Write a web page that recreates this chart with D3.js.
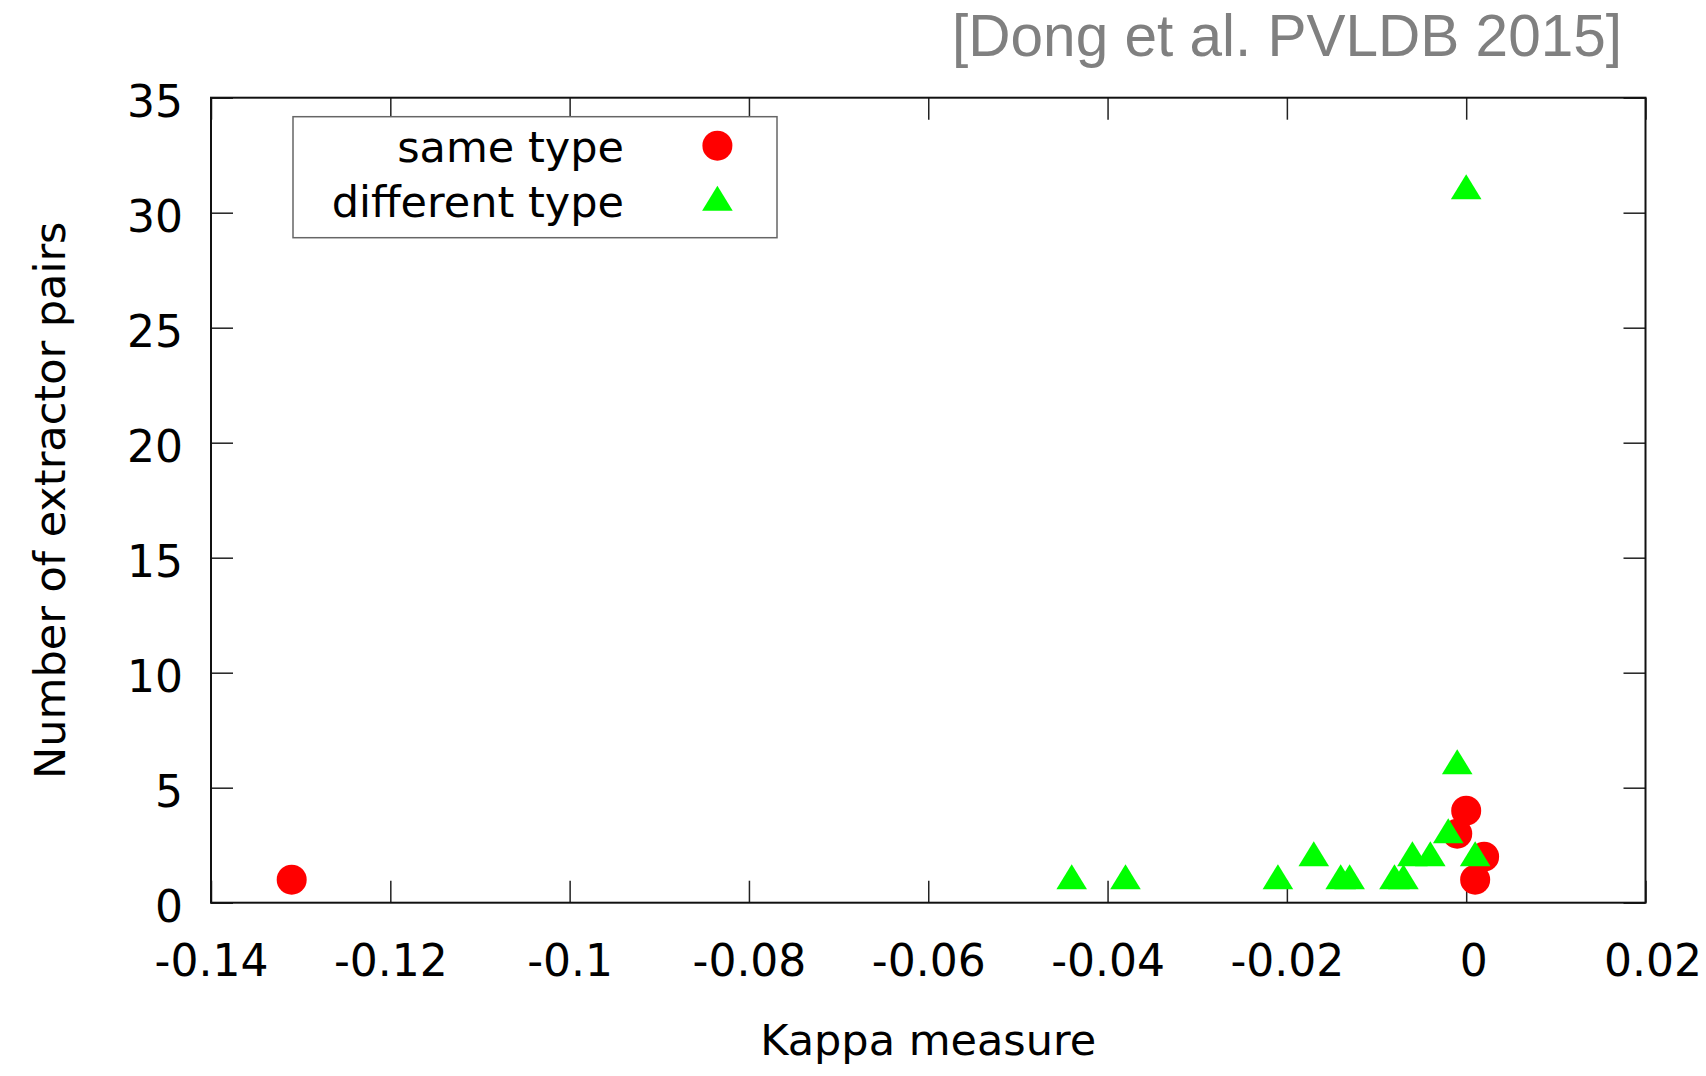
<!DOCTYPE html>
<html>
<head>
<meta charset="utf-8">
<script src="https://cdn.jsdelivr.net/npm/d3@7"></script>
<style>
  body { margin: 0; background: #fff; }
  svg { display: block; }
</style>
</head>
<body>
<svg id="chart" width="1706" height="1076"></svg>
<script>
// Extractor pairs of the same type: Kappa measure and number of pairs
const sameTypeKappa = [-0.131, -0.001, 0.000, 0.001, 0.002];
const sameTypePairs = [1, 3, 4, 1, 2];

// Extractor pairs of different types
const diffTypeKappa = [-0.044, -0.038, -0.021, -0.017, -0.014, -0.013, -0.008, -0.007, -0.006, -0.004, -0.002, -0.001, 0.001, 0.000];
const diffTypePairs = [1, 1, 1, 2, 1, 1, 1, 1, 2, 2, 3, 6, 2, 31];

const seriesNames = ["same type", "different type"];
const seriesColors = ["#ff0000", "#00ff00"];

const xTickValues = [-0.14, -0.12, -0.10, -0.08, -0.06, -0.04, -0.02, 0, 0.02];
const xTickLabels = ["-0.14", "-0.12", "-0.1", "-0.08", "-0.06", "-0.04", "-0.02", "0", "0.02"];
const yTickValues = [0, 5, 10, 15, 20, 25, 30, 35];
const yTickLabels = ["0", "5", "10", "15", "20", "25", "30", "35"];

const svg = d3.select("#chart");
const plot = { left: 211, right: 1645.5, top: 97.7, bottom: 902.7 };
const FONT = "'DejaVu Sans', Verdana, sans-serif";
const TICK = 22;

const x = d3.scaleLinear().domain([-0.14, 0.02]).range([plot.left, plot.right]);
const y = d3.scaleLinear().domain([0, 35]).range([plot.bottom, plot.top]);

// Axes with inward ticks on all four sides
function styleAxis(g) {
  g.select(".domain").remove();
  g.selectAll(".tick line").attr("stroke", "#222").attr("stroke-width", 1.5);
}

const xBottom = svg.append("g")
  .attr("transform", `translate(0,${plot.bottom})`)
  .call(d3.axisBottom(x).tickValues(xTickValues).tickSize(-TICK)
    .tickFormat((d, i) => xTickLabels[i]))
  .call(styleAxis);
// non-negative labels leave room for a sign, so they sit half a space to the right
xBottom.selectAll(".tick text")
  .attr("y", 73).attr("dy", null)
  .attr("dx", (d, i) => xTickLabels[i].startsWith("-") ? 0 : 7)
  .attr("font-family", FONT).attr("font-size", 44).attr("fill", "#000");

svg.append("g")
  .attr("transform", `translate(0,${plot.top})`)
  .call(d3.axisTop(x).tickValues(xTickValues).tickSize(-TICK).tickFormat(""))
  .call(styleAxis);

const yLeft = svg.append("g")
  .attr("transform", `translate(${plot.left},0)`)
  .call(d3.axisLeft(y).tickValues(yTickValues).tickSize(-TICK)
    .tickFormat((d, i) => yTickLabels[i]))
  .call(styleAxis);
yLeft.selectAll(".tick text")
  .attr("x", -28).attr("dy", null).attr("y", 19)
  .attr("font-family", FONT).attr("font-size", 44).attr("fill", "#000");

svg.append("g")
  .attr("transform", `translate(${plot.right},0)`)
  .call(d3.axisRight(y).tickValues(yTickValues).tickSize(-TICK).tickFormat(""))
  .call(styleAxis);

// Plot border
svg.append("rect")
  .attr("x", plot.left).attr("y", plot.top)
  .attr("width", plot.right - plot.left).attr("height", plot.bottom - plot.top)
  .attr("fill", "none").attr("stroke", "#111").attr("stroke-width", 2);

// Axis titles
svg.append("text")
  .attr("x", (plot.left + plot.right) / 2).attr("y", 1055)
  .attr("text-anchor", "middle")
  .attr("font-family", FONT).attr("font-size", 43)
  .text("Kappa measure");

svg.append("text")
  .attr("transform", `translate(65,${(plot.top + plot.bottom) / 2}) rotate(-90)`)
  .attr("text-anchor", "middle")
  .attr("font-family", FONT).attr("font-size", 43)
  .text("Number of extractor pairs");

// Citation
svg.append("text")
  .attr("x", 1622).attr("y", 56)
  .attr("text-anchor", "end")
  .attr("font-family", "'Liberation Sans', Arial, sans-serif").attr("font-size", 58.5)
  .attr("fill", "#808080")
  .text("[Dong et al. PVLDB 2015]");

// Marker shapes
const circleR = 15;
const trianglePath = "M0,-15.5L15.3,9.5L-15.3,9.5Z";

const sameData = sameTypeKappa.map((k, i) => ({ k, n: sameTypePairs[i] }));
const diffData = diffTypeKappa.map((k, i) => ({ k, n: diffTypePairs[i] }));

svg.append("g").selectAll("circle")
  .data(sameData).join("circle")
  .attr("cx", d => x(d.k)).attr("cy", d => y(d.n))
  .attr("r", circleR).attr("fill", seriesColors[0]);

svg.append("g").selectAll("path")
  .data(diffData).join("path")
  .attr("transform", d => `translate(${x(d.k)},${y(d.n)})`)
  .attr("d", trianglePath).attr("fill", seriesColors[1]);

// Legend
const legend = svg.append("g");
legend.append("rect")
  .attr("x", 293).attr("y", 116.7).attr("width", 484).attr("height", 121)
  .attr("fill", "#fff").attr("stroke", "#666").attr("stroke-width", 1.5);

const legendRows = [
  { name: seriesNames[0], ty: 161.7, my: 145.7 },
  { name: seriesNames[1], ty: 216.7, my: 201.2 }
];
legend.selectAll("text")
  .data(legendRows).join("text")
  .attr("x", 624).attr("y", d => d.ty)
  .attr("text-anchor", "end")
  .attr("font-family", FONT).attr("font-size", 43)
  .text(d => d.name);

legend.append("circle")
  .attr("cx", 717.4).attr("cy", legendRows[0].my).attr("r", circleR)
  .attr("fill", seriesColors[0]);
legend.append("path")
  .attr("transform", `translate(717.4,${legendRows[1].my})`)
  .attr("d", trianglePath).attr("fill", seriesColors[1]);
</script>
</body>
</html>
